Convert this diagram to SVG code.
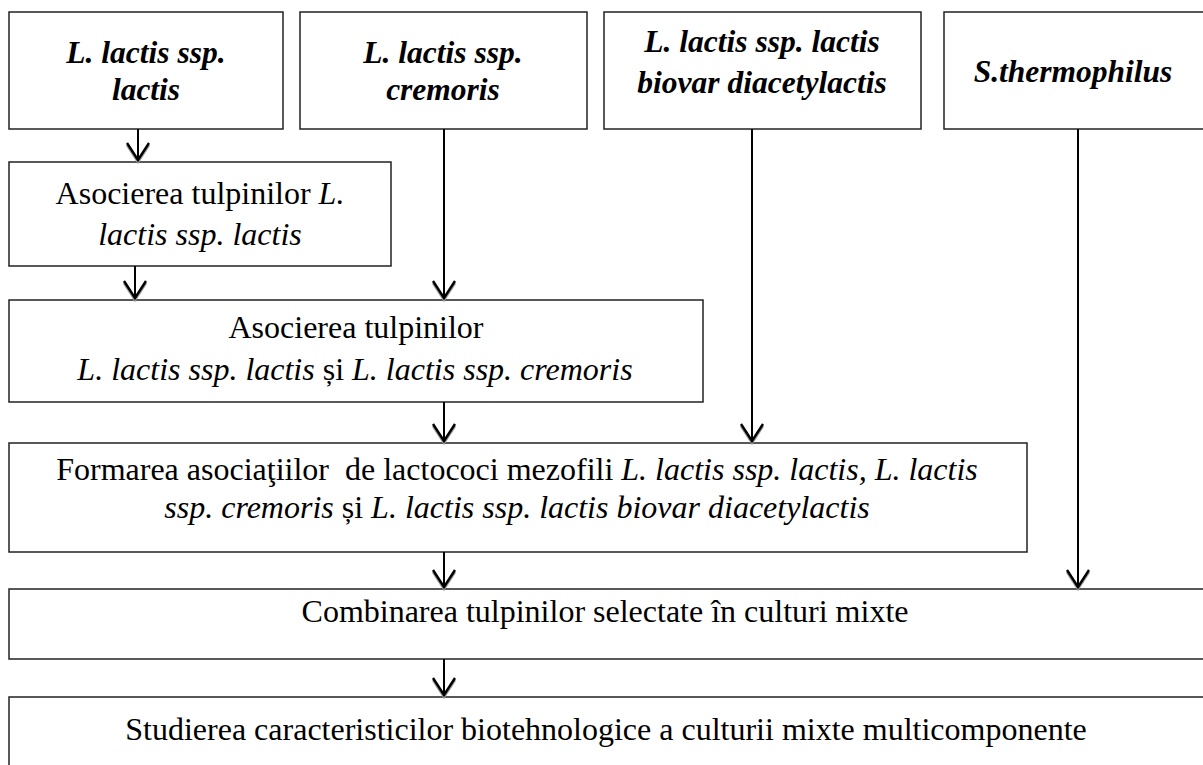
<svg xmlns="http://www.w3.org/2000/svg" width="1203" height="765" viewBox="0 0 1203 765">
<style>
.box{fill:#fff;stroke:#222;stroke-width:1.5}
.t{font-family:"Liberation Serif","Times New Roman",serif;font-size:32px;fill:#000;text-anchor:middle}
.b{font-weight:bold;font-style:italic;font-size:31.5px}
.i{font-style:italic}
.ln{stroke:#000;stroke-width:2;fill:none}
.hd{stroke:#000;stroke-width:2.4;fill:none;stroke-linejoin:miter}
.sh{stroke:#999;stroke-width:2.4;fill:none}
</style>
<defs>
<g id="ah">
<polyline class="sh" points="-11,-15 0,2 11,-15"/>
<polyline class="hd" points="-11,-17 0,0 11,-17"/>
</g>
</defs>
<rect width="1203" height="765" fill="#fff"/>
<g id="n1">
<rect class="box" x="9" y="12" width="274" height="117"/>
<text class="t b" x="146" y="63">L. lactis ssp.</text>
<text class="t b" x="146" y="100">lactis</text>
</g>
<g id="n2">
<rect class="box" x="300" y="12" width="287" height="117"/>
<text class="t b" x="443" y="63">L. lactis ssp.</text>
<text class="t b" x="443" y="100">cremoris</text>
</g>
<g id="n3">
<rect class="box" x="604" y="12" width="317" height="117"/>
<text class="t b" x="762" y="52">L. lactis ssp. lactis</text>
<text class="t b" x="762" y="93">biovar diacetylactis</text>
</g>
<g id="n4">
<rect class="box" x="944" y="12" width="270" height="117"/>
<text class="t b" x="1073" y="82">S.thermophilus</text>
</g>
<g id="n5">
<rect class="box" x="9" y="162" width="382" height="104"/>
<text class="t" x="200" y="204">Asocierea tulpinilor <tspan class="i">L.</tspan></text>
<text class="t i" x="200" y="245">lactis ssp. lactis</text>
</g>
<g id="n6">
<rect class="box" x="9" y="300" width="694" height="102"/>
<text class="t" x="356" y="338">Asocierea tulpinilor</text>
<text class="t" x="355" y="380"><tspan class="i">L. lactis ssp. lactis</tspan> și <tspan class="i">L. lactis ssp. cremoris</tspan></text>
</g>
<g id="n7">
<rect class="box" x="9" y="443" width="1018" height="109"/>
<text class="t" x="517" y="480" xml:space="preserve">Formarea asociaţiilor  de lactococi mezofili <tspan class="i">L. lactis ssp. lactis, L. lactis</tspan></text>
<text class="t" x="517" y="518"><tspan class="i">ssp. cremoris</tspan> și <tspan class="i">L. lactis ssp. lactis biovar diacetylactis</tspan></text>
</g>
<g id="n8">
<rect class="box" x="9" y="589" width="1205" height="70"/>
<text class="t" x="605" y="622">Combinarea tulpinilor selectate în culturi mixte</text>
</g>
<g id="n9">
<rect class="box" x="9" y="697" width="1205" height="80"/>
<text class="t" x="606" y="740">Studierea caracteristicilor biotehnologice a culturii mixte multicomponente</text>
</g>
<g id="connectors">
<line class="ln" x1="138" y1="129" x2="138" y2="160"/>
<use href="#ah" x="138" y="160"/>
<line class="ln" x1="135" y1="266" x2="135" y2="298"/>
<use href="#ah" x="135" y="298"/>
<line class="ln" x1="444" y1="129" x2="444" y2="298"/>
<use href="#ah" x="444" y="298"/>
<line class="ln" x1="752" y1="129" x2="752" y2="441"/>
<use href="#ah" x="752" y="441"/>
<line class="ln" x1="444" y1="402" x2="444" y2="441"/>
<use href="#ah" x="444" y="441"/>
<line class="ln" x1="1078" y1="129" x2="1078" y2="587"/>
<use href="#ah" x="1078" y="587"/>
<line class="ln" x1="444" y1="552" x2="444" y2="587"/>
<use href="#ah" x="444" y="587"/>
<line class="ln" x1="444" y1="659" x2="444" y2="695"/>
<use href="#ah" x="444" y="695"/>
</g>
</svg>
